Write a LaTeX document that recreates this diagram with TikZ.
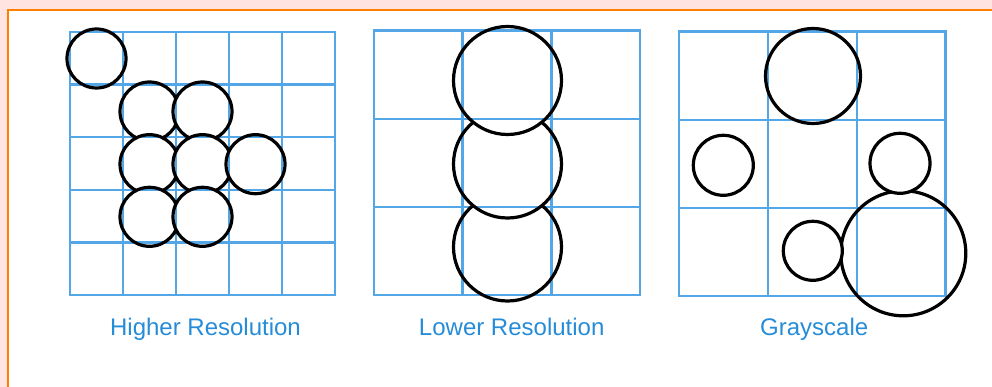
\documentclass[tikz,border=0pt]{standalone}
\usepackage{fontspec}
\setmainfont{Liberation Sans}
\usetikzlibrary{positioning}
\definecolor{gridblue}{RGB}{84,167,230}
\definecolor{labelblue}{RGB}{38,140,216}
\definecolor{framepink}{RGB}{255,228,226}
\definecolor{frameorange}{RGB}{255,128,0}
\tikzset{ring/.style={circle,draw=black,line width=3.2pt,fill=white,inner sep=0pt,minimum size=#1},
    ring/.default=59pt}
\tikzset{pixelgrid/.style={draw=gridblue,line width=2.5pt,blend mode=multiply}}
\tikzset{caption/.style={text=labelblue,font=\fontsize{24}{28}\selectfont,anchor=base}}

\begin{document}
\begin{tikzpicture}[x=1pt,y=-1pt]
    \useasboundingbox (0,0) rectangle (992,387);
    \fill[framepink] (0,0) rectangle (992,10) (0,10) rectangle (8,387);
    \draw[frameorange,line width=2pt] (8,387) -- (8,10) -- (992,10);
    % higher resolution
    \node[ring] (h1) at (96.5,58.5) {};
    \node[ring] (h2) at (149.5,111.5) {};
    \node[ring] (h3) at (202.5,111.5) {};
    \node[ring] (h4) at (149.5,164.2) {};
    \node[ring] (h5) at (202.5,164.2) {};
    \node[ring] (h6) at (255.5,164.2) {};
    \node[ring] (h7) at (149.5,216.8) {};
    \node[ring] (h8) at (202.5,216.8) {};
    \draw[pixelgrid] (70,32) rectangle (335,295)
        \foreach \i in {1,...,4} {(70+53*\i,32) -- (70+53*\i,295) (70,32+52.6*\i) -- (335,32+52.6*\i)};
    \node[caption] (high) at (205.5,335) {Higher Resolution};
    % lower resolution
    \node[ring=108pt] (l3) at (507.5,247) {};
    \node[ring=108pt] (l2) at (507.5,164) {};
    \node[ring=108pt] (l1) at (507.5,80.5) {};
    \draw[pixelgrid] (374,30.7) rectangle (640,295)
        \foreach \i in {1,2} {(374+88.67*\i,30.7) -- (374+88.67*\i,295) (374,30.7+88.1*\i) -- (640,30.7+88.1*\i)};
    \node[caption] (low) at (511.7,335) {Lower Resolution};
    % grayscale
    \node[ring=125pt] (g5) at (903.3,253.3) {};
    \node[ring=95pt] (g1) at (813,76) {};
    \node[ring=60pt] (g2) at (723.3,165.3) {};
    \node[ring=60pt] (g3) at (900,163.3) {};
    \node[ring=59pt] (g4) at (812.8,250.8) {};
    \draw[pixelgrid] (679,31.7) rectangle (945.7,296)
        \foreach \i in {1,2} {(679+88.9*\i,31.7) -- (679+88.9*\i,296) (679,31.7+88.1*\i) -- (945.7,31.7+88.1*\i)};
    \node[caption] (gray) at (814.2,335) {Grayscale};
\end{tikzpicture}
\end{document}
